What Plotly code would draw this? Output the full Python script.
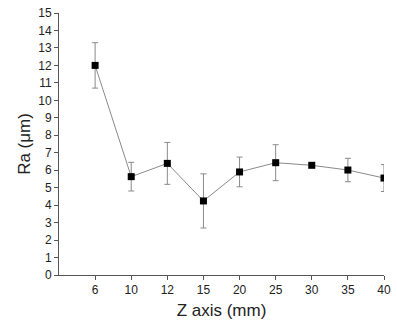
import plotly.graph_objects as go

z_labels = ["6", "10", "12", "15", "20", "25", "30", "35", "40"]
ra_values = [12.0, 5.63, 6.39, 4.24, 5.9, 6.43, 6.28, 6.01, 5.55]
ra_errors = [1.3, 0.82, 1.2, 1.55, 0.85, 1.03, 0.1, 0.67, 0.77]
y_ticks = list(range(0, 16))

fig = go.Figure()
fig.add_trace(go.Scatter(
    x=z_labels, y=ra_values,
    mode="lines+markers",
    line=dict(color="#8a8a8a", width=1),
    marker=dict(symbol="square", size=7, color="black"),
    error_y=dict(type="data", array=ra_errors, visible=True,
                 color="#8a8a8a", thickness=1, width=3),
    showlegend=False,
    cliponaxis=True,
))

fig.update_layout(
    width=397, height=324,
    margin=dict(l=59, r=13, t=13, b=49),
    paper_bgcolor="white", plot_bgcolor="white",
    font=dict(family="Liberation Sans, Arial, sans-serif", color="#222", size=12),
    xaxis=dict(
        type="category", range=[-1, 8], automargin=False,
        showline=True, linecolor="#555", linewidth=1,
        ticks="outside", ticklen=4, tickcolor="#555",
        showgrid=False, zeroline=False,
        tickfont=dict(size=12),
        title=dict(text="Z axis (mm)", font=dict(size=17), standoff=7),
    ),
    yaxis=dict(
        range=[0, 15], tickvals=y_ticks, automargin=False,
        showline=True, linecolor="#555", linewidth=1,
        ticks="outside", ticklen=4, tickcolor="#555",
        showgrid=False, zeroline=False,
        tickfont=dict(size=12),
        title=dict(text="Ra (μm)", font=dict(size=17), standoff=3),
    ),
)

fig.write_html("out.html")
